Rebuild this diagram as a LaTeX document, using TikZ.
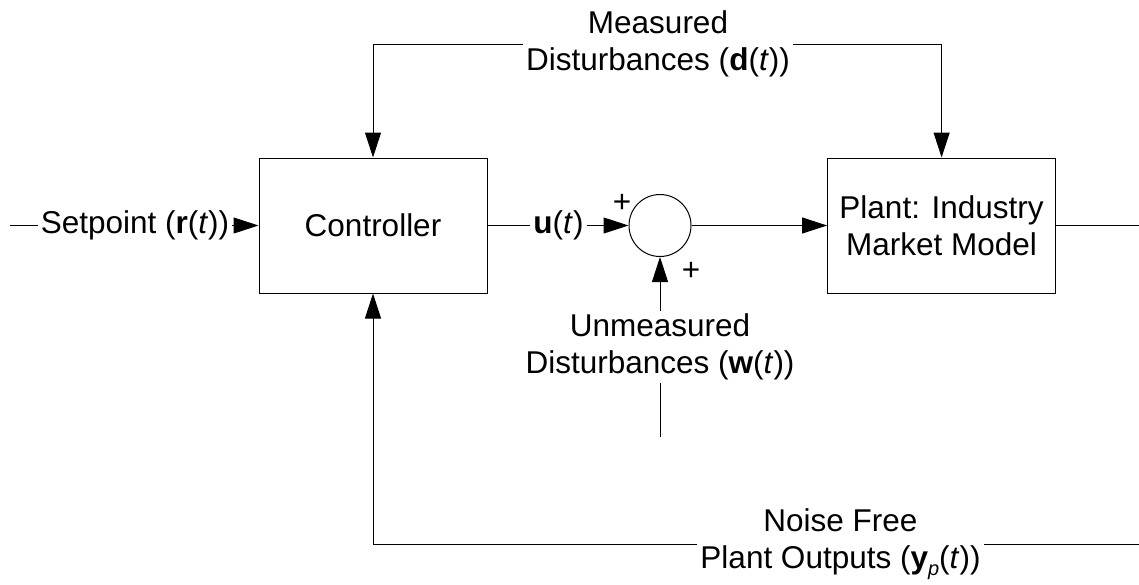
\documentclass[tikz,border=0pt]{standalone}
\usepackage{fontspec}
\setmainfont{Liberation Sans}
\usetikzlibrary{arrows.meta}
\begin{document}
\begin{tikzpicture}[x=1pt,y=-1pt,
  every node/.style={font=\fontsize{31.5}{37}\selectfont, inner sep=3pt},
  wire/.style={line width=1pt, draw=black},
  arr/.style={wire, -{Triangle[length=25pt,width=16pt]}},
  blockbox/.style={draw, line width=1pt, minimum width=228pt, minimum height=135pt, align=center},
  sumnode/.style={draw, line width=1pt, circle, minimum size=62pt, inner sep=0pt},
  lbl/.style={align=center}]
\useasboundingbox (0,0) rectangle (1139,584);
% blocks
\node[blockbox] (ctrl) at (373,225.5) {Controller};
\node[blockbox] (plant) at (941.6,225.5) {Plant: Industry\\Market Model};
\node[sumnode] (sum) at (660,225.5) {};
% labels
\node[lbl] (sp) at (135,225.5) {Setpoint (\textbf{r}(\textit{t}))};
\node[lbl] (u) at (558.5,225.5) {\textbf{u}(\textit{t})};
\node[lbl] (md) at (658,44) {Measured\\Disturbances (\textbf{d}(\textit{t}))};
\node[lbl] (um) at (660,347) {Unmeasured\\Disturbances (\textbf{w}(\textit{t}))};
\node[lbl] (nf) at (840.5,544) {Noise Free\\Plant Outputs (\textbf{y}\raisebox{-7pt}{\fontsize{20}{20}\selectfont\textit{p}}(\textit{t}))};
\node (p1) at (622,203) {+};
\node (p2) at (691,271) {+};
% free ends
\coordinate (spin) at (10,225.5);
\coordinate (wend) at (660,437);
\coordinate (yout) at (1139,225.5);
\coordinate (fbin) at (1139,544);
% connectors
\draw[wire] (spin) -- (sp.west);
\draw[arr] (sp.east) -- (ctrl.west);
\draw[wire] (ctrl.east) -- (u.west);
\draw[arr] (u.east) -- (sum.west);
\draw[arr] (sum.east) -- (plant.west);
\draw[wire] (plant.east) -- (yout);
\draw[arr] (md.west) -| (ctrl.north);
\draw[arr] (md.east) -| (plant.north);
\draw[wire] (wend) -- (um.south);
\draw[arr] (um.north) -- (sum.south);
\draw[wire] (fbin) -- (nf.east);
\draw[arr] (nf.west) -| (ctrl.south);
\end{tikzpicture}
\end{document}
